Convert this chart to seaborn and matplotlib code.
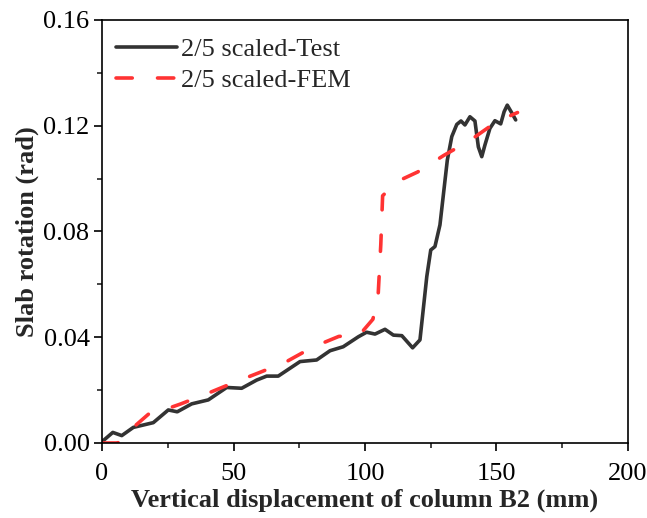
import numpy as np
import pandas as pd
import seaborn as sns
import matplotlib
matplotlib.use("Agg")
import matplotlib.pyplot as plt
from matplotlib.ticker import MultipleLocator

test_x = [0, 4.1, 7.5, 11.9, 19.5, 25.2, 28.6, 34.1, 40.4, 47.4, 53.1, 58.8, 62.6, 67.0,
          75.3, 81.6, 86.7, 91.7, 97.5, 100.6, 103.8, 107.6, 110.8, 114.0, 118.1, 120.9,
          123.5, 125.0, 126.6, 128.5, 131.3, 133.0, 134.9, 136.5, 138.0, 139.9, 141.8,
          143.1, 144.4, 145.6, 147.5, 149.4, 151.6, 152.9, 154.1, 155.8, 157.3]
test_y = [0.0005, 0.004, 0.0028, 0.0059, 0.0077, 0.0125, 0.0118, 0.0148, 0.0163, 0.021,
          0.0207, 0.0238, 0.0253, 0.0253, 0.0308, 0.0314, 0.0349, 0.0364, 0.0402, 0.0419,
          0.0412, 0.043, 0.0408, 0.0406, 0.036, 0.039, 0.063, 0.073, 0.0743, 0.0825,
          0.107, 0.1159, 0.1205, 0.1218, 0.1203, 0.1234, 0.1218, 0.112, 0.1083, 0.1127,
          0.119, 0.1219, 0.1207, 0.1253, 0.1278, 0.1249, 0.1222]

fem_x = [0, 6, 12, 18, 22, 30, 40, 50, 60, 70, 80, 90, 98, 103, 105, 106, 106.7,
         112, 120, 130, 140, 150, 158]
fem_y = [0, 0, 0.006, 0.0112, 0.012, 0.0148, 0.0187, 0.0228, 0.0267, 0.0307, 0.0362,
         0.0403, 0.041, 0.0468, 0.056, 0.075, 0.0935, 0.0988, 0.1025, 0.1088, 0.1145,
         0.1215, 0.125]

labels = ["2/5 scaled-Test", "2/5 scaled-FEM"]

df = pd.concat([
    pd.DataFrame({"x": test_x, "y": test_y, "series": labels[0]}),
    pd.DataFrame({"x": fem_x, "y": fem_y, "series": labels[1]}),
], ignore_index=True)

sns.set_style("ticks")
plt.rcParams["font.family"] = ["Liberation Serif", "DejaVu Serif"]

fig = plt.figure(figsize=(6.47, 5.18), dpi=100)
ax = fig.add_axes([0.1577, 0.1448, 0.8129, 0.8166])

LW = 2.6
sns.lineplot(data=df, x="x", y="y", hue="series", style="series",
             palette={labels[0]: "#333333", labels[1]: "#FF3333"},
             dashes={labels[0]: "", labels[1]: (4.5, 7)},
             sort=False, estimator=None, linewidth=LW, ax=ax)

for ln in ax.get_lines():
    ln.set_dash_capstyle("round")
    ln.set_solid_capstyle("round")
    ln.set_solid_joinstyle("round")

ax.set_xlim(0, 200)
ax.set_ylim(0, 0.16)
ax.xaxis.set_major_locator(MultipleLocator(50))
ax.xaxis.set_minor_locator(MultipleLocator(25))
ax.yaxis.set_major_locator(MultipleLocator(0.04))
ax.yaxis.set_minor_locator(MultipleLocator(0.02))
ax.yaxis.set_major_formatter(matplotlib.ticker.FormatStrFormatter("%.2f"))
ax.tick_params(axis="both", which="major", direction="out", length=6, width=1.2,
               labelsize=19, colors="black", top=False, right=False)
ax.tick_params(axis="x", which="major", pad=8.5)
ax.tick_params(axis="y", which="major", pad=3)
ax.tick_params(axis="both", which="minor", direction="out", length=3.5, width=1.2,
               top=False, right=False)
for s in ax.spines.values():
    s.set_visible(True)
    s.set_linewidth(1.2)
    s.set_color("black")

ax.set_xlabel("Vertical displacement of column B2 (mm)", fontsize=19, fontweight="bold", labelpad=2.5)
ax.set_ylabel("Slab rotation (rad)", fontsize=19, fontweight="bold", labelpad=3)

leg = ax.legend(loc="upper left", frameon=False, fontsize=19, handlelength=2.3,
                handletextpad=0.15, borderaxespad=0.2, labelspacing=0.3,
                bbox_to_anchor=(-0.003, 0.996))
for h in leg.get_lines():
    h.set_linewidth(LW)

fig.savefig("out.png", dpi=100)
